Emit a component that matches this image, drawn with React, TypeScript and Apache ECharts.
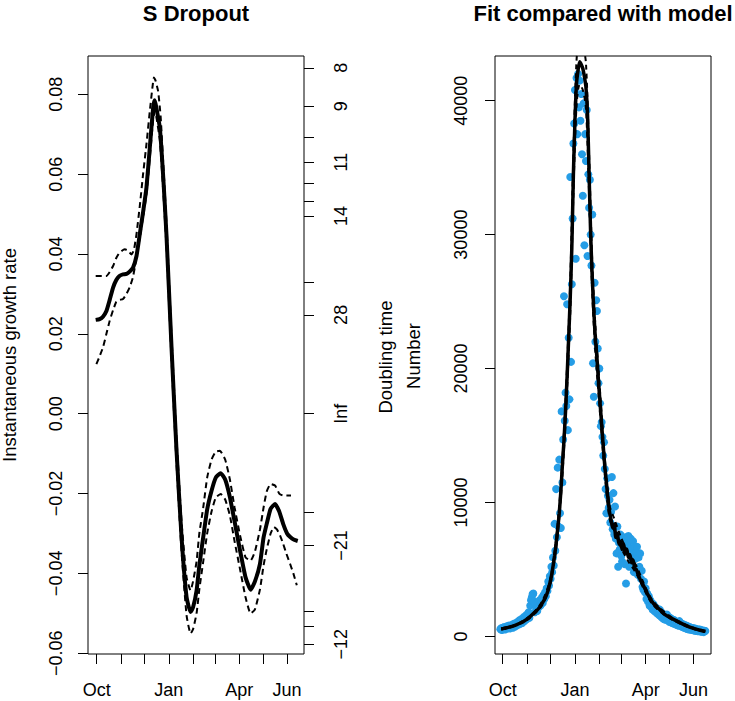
import React, { useEffect, useRef } from 'react';
import * as echarts from 'echarts';

// ---- axis definitions ----
const monthTickDays = [0, 31, 61, 92, 123, 151, 182, 212, 243]; // days since 1 Oct
const monthLabelDays = [0, 92, 182, 243];
const monthLabelNames = ['Oct', 'Jan', 'Apr', 'Jun'];
const growthTicks = [-0.06, -0.04, -0.02, 0, 0.02, 0.04, 0.06, 0.08];
const doublingTickDays = [8, 9, 10, 11, 12, 13, 14, 21, 28, -28, -21, -14, -13, -12];
const doublingLabelDays = [8, 9, 11, 14, 28, -21, -12];
const numberTicks = [0, 10000, 20000, 30000, 40000];

// ---- left panel: instantaneous growth rate [day, rate] ----
const growthFit = [
  [-1.3, 0.0235], [3.8, 0.0237], [8, 0.0243], [12.4, 0.0257], [16.6, 0.0285], [20.9, 0.0316],
  [25, 0.0335], [29, 0.0345], [33.6, 0.0349], [38, 0.035], [42, 0.0356], [46.4, 0.0366],
  [50.8, 0.0395], [55, 0.045], [59.2, 0.0505], [63.5, 0.0566], [67.8, 0.0667], [72, 0.0766],
  [74, 0.0785], [76, 0.0768], [80.6, 0.0716], [85, 0.059], [89, 0.045], [95.5, 0.0166],
  [101.9, -0.00925], [108.3, -0.0309], [114.7, -0.0459], [119.8, -0.0497], [123, -0.0485],
  [127.5, -0.0443], [131, -0.038], [136, -0.0309], [141, -0.024], [146.6, -0.0193], [152, -0.016],
  [158.2, -0.0149], [164, -0.0165], [170, -0.0209], [176, -0.027], [183, -0.0343], [190, -0.041],
  [196.5, -0.0441], [202, -0.042], [208.4, -0.0376], [213, -0.031], [217, -0.0276], [222, -0.0238],
  [227.6, -0.0226], [233, -0.0245], [238, -0.0276], [243, -0.03], [247, -0.0309], [252, -0.0316],
  [256.6, -0.0319],
];
const growthUpper = [
  [-1.3, 0.0345], [4, 0.0345], [8, 0.0345], [12.4, 0.0345], [16.6, 0.0355], [20.9, 0.037],
  [25, 0.039], [29, 0.0403], [33.6, 0.041], [36, 0.0412], [40, 0.0408], [44.4, 0.0399],
  [47.5, 0.041], [50.8, 0.045], [55, 0.052], [59.2, 0.06], [63.5, 0.0675], [67.8, 0.0758],
  [71, 0.0815], [73, 0.0842], [75, 0.0835], [78.4, 0.0808], [81.6, 0.0745], [85, 0.0625],
  [89, 0.048], [95.5, 0.0195], [101.9, -0.0062], [108.3, -0.027], [114.7, -0.041], [119.8, -0.0443],
  [123, -0.042], [127.5, -0.037], [131, -0.03], [136, -0.0235], [141, -0.016], [146.6, -0.0115],
  [152, -0.0095], [157.3, -0.0093], [164, -0.0115], [170, -0.0165], [176, -0.0235], [183, -0.0305],
  [190, -0.036], [196.5, -0.0368], [202, -0.0345], [208.4, -0.029], [213, -0.0235], [217, -0.0195],
  [222, -0.0176], [227.6, -0.018], [233, -0.02], [238, -0.0205], [243, -0.0205], [248, -0.0205],
];
const growthLower = [
  [-0.4, 0.0124], [3, 0.014], [8, 0.0166], [12.4, 0.02], [16.6, 0.0233], [21, 0.026], [25, 0.028],
  [29, 0.0285], [33.6, 0.0287], [38, 0.03], [42, 0.0316], [46, 0.034], [48.6, 0.0366], [52, 0.041],
  [55, 0.044], [59, 0.049], [63.5, 0.055], [67.8, 0.064], [72, 0.0735], [74, 0.0758], [76, 0.0745],
  [80.6, 0.0685], [85, 0.0555], [89, 0.042], [95.5, 0.0135], [101.9, -0.0125], [108.3, -0.0345],
  [114.7, -0.0505], [119.8, -0.0551], [123, -0.054], [127.5, -0.05], [131, -0.044], [136, -0.037],
  [141, -0.03], [146.6, -0.0245], [152, -0.021], [158.2, -0.0201], [164, -0.0215], [170, -0.0255],
  [176, -0.032], [183, -0.039], [190, -0.046], [196.5, -0.0501], [202, -0.049], [208.4, -0.044],
  [213, -0.038], [217, -0.034], [222, -0.03], [226.3, -0.0284], [230, -0.029], [234, -0.0305],
  [238, -0.0326], [242, -0.035], [246.8, -0.0376], [251, -0.04], [255.4, -0.043],
];

// ---- right panel: daily counts (first day = -3, i.e. 28 Sep) ----
const caseFirstDay = -3;
const caseCounts = [
  540, 610, 480, 650, 560, 700, 520, 640, 750, 600, 680, 820, 590,
  760, 700, 880, 650, 830, 960, 740, 900, 1050, 850,
  1000, 1200, 920, 1100, 1300, 1000, 1250, 1450, 1150, 1350,
  1600, 1300, 1500, 1800, 1400, 2300, 2700, 2900, 3150, 3200,
  2600, 1800, 2400, 2100, 1900, 2500, 2200, 2700, 2300, 2600,
  2900, 2500, 3100, 2800, 3300, 3000, 3600, 3400, 4100, 3800,
  4500, 4300, 5200, 4800, 5900, 5300, 8400, 6400, 11000, 7400,
  12600, 8200, 13200, 9200, 8100, 16800, 11500, 14700, 25400, 16100,
  18200, 17200, 24800, 15400, 22300, 17700, 34300, 20500, 26300, 31200,
  36800, 38300, 40800, 28200, 41700, 37500, 42000, 39500, 41500, 38500,
  40500, 36000, 32900, 39800, 29200, 37500, 35500, 39300, 28400, 34500,
  32000, 34100, 30000, 27700, 31500, 20400, 17900, 26400, 22000, 25100,
  24300, 21500, 18900, 20000, 17400, 15700, 16000, 14900, 13500, 14500,
  12500, 11000, 9200, 11800, 10500, 9600, 10200, 8500, 9300, 11900,
  8000, 10700, 7600, 9700, 7300, 6200, 8200, 5200, 7000, 6500,
  7600, 6000, 5600, 7200, 6800, 5400, 7400, 3950, 6400, 7000,
  7500, 5200, 6600, 7300, 5600, 6200, 7100, 4800, 6700, 5800,
  6300, 6700, 4600, 5900, 5200, 6200, 4300, 4900, 3700, 3500,
  4100, 3300, 3600, 2800, 3200, 2600, 3000, 2300, 2700, 2200,
  2500, 2000, 2400, 1900, 2200, 1800, 2100, 1700, 1900, 1600,
  2000, 1500, 1800, 1400, 1700, 1300, 1600, 1250, 1550, 1640,
  1200, 1450, 1100, 1400, 1050, 1300, 1000, 1250, 950, 1200,
  900, 1100, 850, 1050, 800, 1140, 900, 750, 950, 700,
  900, 650, 850, 600, 800, 550, 750, 520, 700, 520,
  650, 480, 620, 450, 600, 420, 560, 400, 530, 380,
  500, 520, 360, 470, 350, 440, 320, 420, 400,
];
const modelFit = [
  [-2, 560], [2, 600], [6, 660], [10, 720], [14, 790], [18, 880], [22, 980], [26, 1100], [30, 1250],
  [34, 1420], [38, 1650], [42, 1850], [46, 2100], [50, 2450], [54, 2850], [57, 3300], [60, 3950],
  [62, 4500], [64, 5200], [66, 6000], [68, 6900], [70, 8000], [72, 9200], [74, 10800], [76, 12800],
  [78, 14600], [80, 16800], [82, 19400], [84, 22300], [86, 25300], [88, 29000], [90, 34500],
  [92, 38500], [94, 41300], [96, 42300], [98, 42900], [100, 42700], [102, 42400], [104, 41800],
  [106, 41000], [108, 39000], [110, 34500], [112, 30000], [114, 26800], [116, 24300], [118, 22200],
  [120, 20800], [122, 19000], [124, 17400], [126, 15800], [128, 14200], [130, 12700], [132, 11500],
  [134, 10300], [136, 9300], [138, 8700], [140, 8100], [142, 8400], [144, 7400], [146, 7700],
  [148, 6900], [150, 7100], [152, 6500], [154, 6900], [156, 6200], [158, 6500], [160, 5900],
  [162, 6100], [164, 5500], [166, 5700], [168, 5100], [170, 5000], [172, 4700], [175, 4250],
  [180, 3700], [185, 3100], [190, 2600], [195, 2250], [200, 2000], [205, 1700], [210, 1500],
  [215, 1350], [220, 1200], [225, 1050], [230, 900], [235, 770], [240, 650], [245, 560],
  [250, 480], [255, 410], [258, 380],
];
const modelUpper = [
  [-2, 600], [10, 760], [20, 980], [30, 1320], [40, 1830], [50, 2600], [60, 4150], [66, 6300],
  [70, 8400], [74, 11300], [78, 15300], [82, 20300], [86, 26500], [90, 36000], [94, 43000],
  [98, 44800], [102, 44200], [106, 42800], [110, 36000], [114, 28000], [118, 23200], [122, 19900],
  [126, 16600], [130, 13300], [136, 9800], [142, 8800], [150, 7500], [160, 6200], [170, 5300],
  [180, 3900], [190, 2750], [200, 2120], [215, 1430], [230, 960], [245, 600], [258, 410],
];
const modelLower = [
  [-2, 520], [10, 680], [20, 900], [30, 1180], [40, 1670], [50, 2300], [60, 3750], [66, 5700],
  [70, 7600], [74, 10300], [78, 13900], [82, 18500], [86, 24100], [90, 33000], [94, 39600],
  [98, 41200], [102, 40800], [106, 39400], [110, 33000], [114, 25600], [118, 21200], [122, 18100],
  [126, 15000], [130, 12100], [136, 8800], [142, 7900], [150, 6700], [160, 5600], [170, 4700],
  [180, 3500], [190, 2450], [200, 1880], [215, 1270], [230, 840], [245, 520], [258, 350],
];

const FONT = '"Liberation Sans", Arial, Helvetica, sans-serif';
const MINUS = '\u2212';

function fmtSigned(s: string, neg: boolean) {
  return neg ? MINUS + s : s;
}

export default function App() {
  const ref = useRef<HTMLDivElement>(null);
  useEffect(() => {
    if (!ref.current) return;
    const chart = echarts.init(ref.current, undefined, { renderer: 'svg' });
    const labelStyle = { fontFamily: FONT, fontSize: 18, color: '#000' };
    const tickStyle = { color: '#000', width: 1 };
    const monthFmt = (v: number) => {
      const i = monthLabelDays.findIndex((d) => Math.abs(d - v) < 1e-6);
      return i >= 0 ? monthLabelNames[i] : '';
    };
    const doublingTickVals = [...doublingTickDays.map((d) => Math.LN2 / d), 0];
    const doublingLabelVals = [...doublingLabelDays.map((d) => Math.LN2 / d), 0];
    const casePoints = caseCounts.map((c, i) => [caseFirstDay + i, c]);

    const xBase = (gridIndex: number, min: number, max: number) => ({
      type: 'value',
      gridIndex,
      min,
      max,
      axisLine: { show: false, onZero: false },
      splitLine: { show: false },
      axisTick: { show: true, length: 10, customValues: monthTickDays, lineStyle: tickStyle },
      axisLabel: { ...labelStyle, customValues: monthLabelDays, formatter: monthFmt, margin: 27 },
    });

    const option: any = {
      animation: false,
      backgroundColor: '#fff',
      textStyle: { fontFamily: FONT },
      grid: [
        { left: 88, top: 56, width: 216, height: 598, show: true, borderColor: '#000', borderWidth: 1, backgroundColor: 'transparent' },
        { left: 495, top: 56, width: 216, height: 598, show: true, borderColor: '#000', borderWidth: 1, backgroundColor: 'transparent' },
      ],
      xAxis: [xBase(0, -11.1, 264.6), xBase(1, -9.8, 265.2)],
      yAxis: [
        {
          type: 'value', gridIndex: 0, position: 'left', min: -0.0602, max: 0.0896,
          axisLine: { show: false, onZero: false }, splitLine: { show: false },
          axisTick: { show: true, length: 10, customValues: growthTicks, lineStyle: tickStyle },
          axisLabel: {
            ...labelStyle, rotate: 90, margin: 23, customValues: growthTicks,
            formatter: (v: number) => fmtSigned(Math.abs(v).toFixed(2), v < -1e-9),
          },
        },
        {
          type: 'value', gridIndex: 0, position: 'right', min: -0.0602, max: 0.0896,
          axisLine: { show: false, onZero: false }, splitLine: { show: false },
          axisTick: { show: true, length: 10, customValues: doublingTickVals, lineStyle: tickStyle },
          axisLabel: {
            ...labelStyle, rotate: 90, margin: 28, customValues: doublingLabelVals,
            formatter: (v: number) => {
              if (Math.abs(v) < 1e-9) return 'Inf';
              const d = Math.round(Math.LN2 / v);
              return fmtSigned(String(Math.abs(d)), d < 0);
            },
          },
        },
        {
          type: 'value', gridIndex: 1, position: 'left', min: -1313, max: 43336,
          axisLine: { show: false, onZero: false }, splitLine: { show: false },
          axisTick: { show: true, length: 10, customValues: numberTicks, lineStyle: tickStyle },
          axisLabel: { ...labelStyle, rotate: 90, margin: 25, customValues: numberTicks, formatter: (v: number) => String(v) },
        },
      ],
      series: [
        {
          type: 'line', xAxisIndex: 0, yAxisIndex: 0, data: growthUpper, showSymbol: false, smooth: 0.15,
          lineStyle: { color: '#000', width: 2, type: [6, 4] }, z: 2,
        },
        {
          type: 'line', xAxisIndex: 0, yAxisIndex: 0, data: growthLower, showSymbol: false, smooth: 0.15,
          lineStyle: { color: '#000', width: 2, type: [6, 4] }, z: 2,
        },
        {
          type: 'line', xAxisIndex: 0, yAxisIndex: 0, data: growthFit, showSymbol: false, smooth: 0.15,
          lineStyle: { color: '#000', width: 4 }, z: 3,
        },
        {
          type: 'scatter', xAxisIndex: 1, yAxisIndex: 2, data: casePoints, symbol: 'circle', symbolSize: 8,
          itemStyle: { color: '#259de6', opacity: 1 }, z: 1,
        },
        {
          type: 'line', xAxisIndex: 1, yAxisIndex: 2, data: modelUpper, showSymbol: false, smooth: 0.3,
          lineStyle: { color: '#000', width: 2, type: [5, 4] }, z: 2,
        },
        {
          type: 'line', xAxisIndex: 1, yAxisIndex: 2, data: modelLower, showSymbol: false, smooth: 0.3,
          lineStyle: { color: '#000', width: 2, type: [5, 4] }, z: 2,
        },
        {
          type: 'line', xAxisIndex: 1, yAxisIndex: 2, data: modelFit, showSymbol: false, smooth: 0.2,
          lineStyle: { color: '#000', width: 3.5 }, z: 3,
        },
      ],
      graphic: [
        { type: 'text', x: 196, y: 13, style: { text: 'S Dropout', font: `bold 22px ${FONT}`, fill: '#000', align: 'center', verticalAlign: 'middle' } },
        { type: 'text', x: 603, y: 13, style: { text: 'Fit compared with model', font: `bold 22px ${FONT}`, fill: '#000', align: 'center', verticalAlign: 'middle' } },
        { type: 'text', x: 9, y: 355, rotation: Math.PI / 2, style: { text: 'Instantaneous growth rate', font: `18.5px ${FONT}`, fill: '#000', align: 'center', verticalAlign: 'middle' } },
        { type: 'text', x: 385, y: 357, rotation: Math.PI / 2, style: { text: 'Doubling time', font: `18.5px ${FONT}`, fill: '#000', align: 'center', verticalAlign: 'middle' } },
        { type: 'text', x: 413, y: 356, rotation: Math.PI / 2, style: { text: 'Number', font: `18.5px ${FONT}`, fill: '#000', align: 'center', verticalAlign: 'middle' } },
      ],
    };
    chart.setOption(option);
    return () => chart.dispose();
  }, []);
  return <div ref={ref} style={{ position: 'fixed', left: 0, top: 0, width: 735, height: 701 }} />;
}
